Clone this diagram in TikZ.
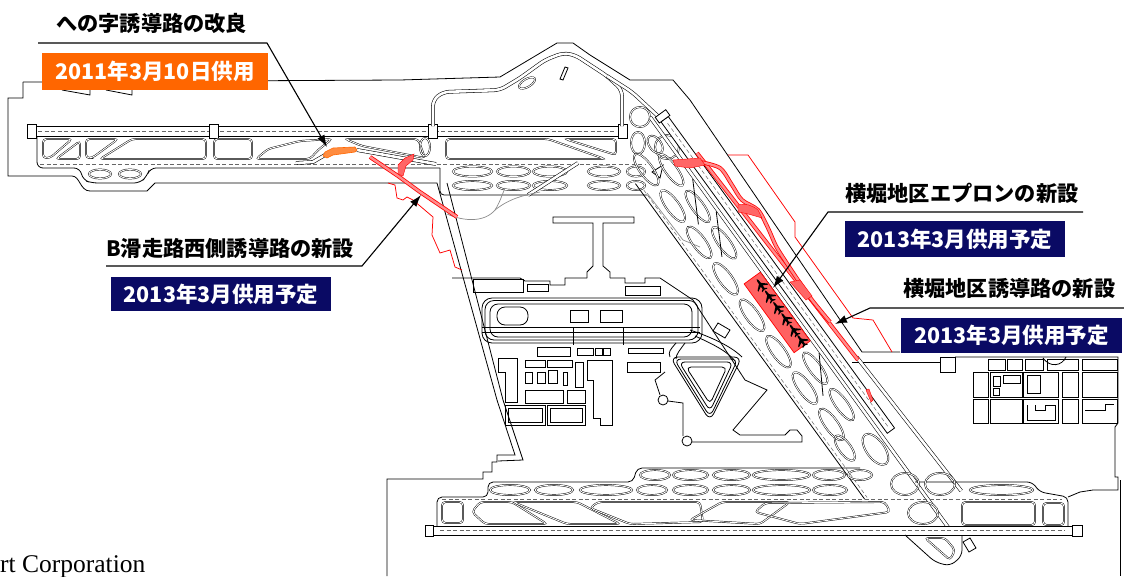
\documentclass[tikz,border=0pt]{standalone}
\usepackage{fontspec}
\usetikzlibrary{arrows.meta}
\newfontfamily\jp{Noto Sans CJK JP}
\newfontfamily\rmserif{Liberation Serif}
\definecolor{navy}{RGB}{10,10,100}
\definecolor{orng}{RGB}{255,102,0}
\newcommand{\myplane}[1]{\fill[shift={#1}, rotate=180, scale=1.3] (5,0) -- (3.5,0.7) -- (0.8,0.9) -- (-2.5,4.6) -- (-3.6,4.6) -- (-1.6,0.9) -- (-3.8,0.8) -- (-5,2.4) -- (-5.7,2.4) -- (-5,0) -- (-5.7,-2.4) -- (-5,-2.4) -- (-3.8,-0.8) -- (-1.6,-0.9) -- (-3.6,-4.6) -- (-2.5,-4.6) -- (0.8,-0.9) -- (3.5,-0.7) -- cycle;}
\begin{document}
\begin{tikzpicture}[x=1pt,y=-1pt,
  ol/.style={draw=black, line width=0.8pt},
  ov/.style={draw=black, line width=0.45pt, double=white, double distance=0.9pt},
  hole/.style={ov, rounded corners=3.5pt},
  rdd/.style={draw=black, line width=0.55pt, double=white, double distance=2.6pt},
  cl/.style={draw=black!60, line width=0.5pt, dash pattern=on 4pt off 2.5pt},
  rwy/.style={draw=black, line width=0.8pt, fill=white},
  rthin/.style={draw=red, line width=0.75pt},
  rband/.style={draw=red, line width=0.8pt, double=red!45, double distance=2.4pt},
  arr/.style={draw=black, line width=1.1pt, -{Latex[length=12pt,width=8pt]}},
  lab/.style={font=\jp\bfseries\fontsize{21.2}{24}\selectfont, inner sep=0pt, anchor=west},
  dbox/.style={font=\jp\bfseries\fontsize{21.5}{24}\selectfont, text=white, inner sep=0pt},
  gr/.style={draw=black!45, line width=0.7pt}]
\useasboundingbox (0,0) rectangle (1124,576);
\fill[white] (0,0) rectangle (1124,576);

% ---------- island outline ----------
\draw[ol] (23,82) -- (400,80) -- (500,77) -- (557,43) -- (573,43) -- (590,55) -- (630,80) -- (673,80) -- (690,100) -- (862,352) -- (900,352);
\draw[ol] (23,82) -- (23,98) -- (8,98) -- (8,176) -- (72,176) .. controls (80,176) and (80,191) .. (90,191) -- (147,191) -- (155,183) -- (437,183) -- (497,400) -- (515,455) -- (497,455) -- (497,462) -- (492,462) -- (492,472) -- (483,472) -- (483,479) -- (387,479) -- (387,576);
\draw[ol] (447,183) -- (503,400) -- (523,460) -- (498,461);
\draw[ol] (62,90) -- (90,95) -- (90,90);
\draw[ol] (106,90) -- (132,95) -- (132,90);
\draw[ol] (852,362) -- (940,362);
\draw[ol] (940,357) rectangle (955,372);
\draw[ol] (955,357) -- (1118,357) -- (1118,423) -- (1115,427) -- (1115,477) -- (1118,477) -- (1118,490) -- (1093,490) -- (1080,492) -- (1068,497);
\draw[ol] (1120,480) -- (1120,576);
% right buildings
\foreach \xa/\xb in {988/1005,1007/1022,1025/1043,1047/1078,1082/1117} \draw[ol] (\xa,359) rectangle (\xb,370);
\foreach \xa/\xb in {973/988,990/1022,1023/1058,1062/1078,1082/1117} {\draw[ol] (\xa,372) rectangle (\xb,397); \draw[ol] (\xa,399) rectangle (\xb,423);}
\draw[ol] (993,376) rectangle (1000,386); \draw[ol] (1003,375) rectangle (1020,383); \draw[ol] (993,388) rectangle (999,395);
\draw[ol] (1027,375) rectangle (1040,393); \draw[ol] (1027,405) -- (1027,420) -- (1055,420) -- (1055,405) -- (1045,405) -- (1045,410) -- (1035,410) -- (1035,405);
\draw[ol] (1085,410) -- (1105,410) -- (1105,404) -- (1114,404);
\draw[ol] (1043,358) .. controls (1050,368) and (1062,366) .. (1066,357);

% ---------- top runway (B) ----------
\draw[rwy] (27,126) rectangle (627,136);
\draw[cl] (38,131) -- (616,131);
\foreach \xa/\xb in {27/36,209/218,428/437,618/627} \draw[ol, fill=white] (\xa,124) rectangle (\xb,138);
% taxiway band
\draw[ol, rounded corners=6pt] (37,137) -- (37,168) -- (80,168) -- (83,180) -- (92,183) -- (140,183) -- (147,176) -- (150,168) -- (440,168);
\draw[cl] (40,164) -- (645,164);
\draw[hole] (43,139) -- (72,139) -- (50,158) -- (43,158) -- cycle;
\draw[hole] (80,141) -- (80,159) -- (56,159) -- cycle;
\draw[hole] (86,139) -- (118,139) -- (92,158) -- (86,158) -- cycle;
\draw[hole] (132,139) -- (206,139) -- (206,159) -- (100,159) -- cycle;
\draw[hole] (214,139) -- (252,139) -- (252,159) -- (214,159) -- cycle;
\draw[hole] (256,159) -- (268,149) -- (300,141) -- (332,139) -- (318,150) -- (310,159) -- cycle;
\draw[hole] (345,139) -- (418,139) -- (425,158) -- (362,146) -- cycle;
\draw[ov] (425,147) ellipse (5pt and 9pt);
\draw[ov] (100,174) ellipse (11pt and 4.5pt);
\draw[ov] (130,174) ellipse (11pt and 4.5pt);
\draw[rdd] (296,163) -- (313,162) -- (325,155);
\draw[rdd] (357,150) -- (436,164);
\filldraw[draw=orng, line width=0.6pt, fill=orng!75] (325,152) -- (333,148) -- (355,147) -- (357,150) -- (355,152) -- (333,155) -- (327,158) -- (323,156) -- cycle;

% ---------- central top ----------
\draw[rdd, rounded corners=6pt] (433,126) -- (433,100) -- (443,92) -- (500,90) -- (520,78) -- (545,60) -- (563,53) -- (575,55) -- (607,76) -- (622,90) -- (622,126);
\draw[rdd, rounded corners=6pt] (607,76) -- (632,92) -- (660,118);
\draw[ov, rotate around={30:(527,83)}] (527,83) ellipse (9pt and 4pt);
\draw[ol] (560,79) -- (563,80) -- (568,68) -- (565,67) -- cycle;
\draw[hole] (446,139) -- (548,139) -- (605,159) -- (446,159) -- cycle;
\draw[hole] (565,139) -- (616,139) -- (616,155) -- cycle;
\draw[ol, rounded corners=4pt] (440,168) -- (440,195) -- (647,195);
\foreach \cx/\rx in {472.5/19.5,513.5/16.5,550/17,604/16,636/9} {\draw[ov] (\cx,171.5) ellipse (\rx pt and 5pt); \draw[ov] (\cx,185.5) ellipse (\rx pt and 4.5pt);}
\draw[rdd] (528,195) -- (578,163);
\draw[ov] (640,117) circle (10pt);
\draw[ov] (667,147) circle (12pt);
\draw[ov] (638,143) ellipse (7pt and 11pt);
\draw[ol] (652,172) -- (663,165) -- (660,178) -- cycle;
% gray service roads
\draw[gr] (447,214) .. controls (465,222) and (485,222) .. (495,210) .. controls (500,202) and (502,195) .. (505,188);
\draw[gr] (495,210) .. controls (510,198) and (525,195) .. (540,192);
\draw[gr] (647,193) -- (683,240) -- (700,247);

% ---------- terminal area ----------
\draw[ol] (587,278) -- (587,272) -- (593,266) -- (593,223) -- (553,223) -- (553,217) -- (634,217) -- (634,223) -- (603,223) -- (603,266) -- (610,272) -- (610,278);
\draw[ol] (452,278) -- (520,278) -- (525,281) -- (550,281) -- (550,285) -- (565,285) -- (565,278) -- (587,278);
\draw[ol] (610,278) -- (625,278) -- (625,283) -- (645,283) -- (645,278) -- (660,278) -- (693,300) -- (745,380) -- (767,390) -- (733,430) -- (740,435) -- (785,435) -- (790,430) -- (797,430) -- (802,436) -- (802,442) -- (692,442);
\draw[ol] (687,441) circle (5pt);
\draw[ol] (683,436) -- (683,403) -- (668,401);
\draw[ol] (663,400) circle (5pt);
\draw[ol] (660,395) -- (655,380) -- (665,372);
\draw[ol] (473,279) rectangle (523,292);
\draw[ol] (527,284) rectangle (548,291);
\draw[ol] (625,286) rectangle (660,295);
\draw[ol, rounded corners=10pt] (482,298) rectangle (702,343);
\draw[ol, rounded corners=9pt] (485,300.5) rectangle (698,340);
\draw[ol, rounded corners=8pt] (490,304) rectangle (692,337);
\draw[ol, rounded corners=8pt] (497,307) rectangle (528,325);
\draw[ol] (482,327) -- (700,327); \draw[ol] (482,332) -- (700,332);
\draw[ol] (570,310) rectangle (588,322); \draw[ol] (600,310) rectangle (622,322);
\draw[ol] (573,327) -- (573,345); \draw[ol] (623,327) -- (623,345);
\draw[ol] (537,347) rectangle (570,356); \draw[ol] (577,348) rectangle (593,355);
\draw[ol] (595,348) rectangle (602,355); \draw[ol] (603,348) rectangle (610,355);
\draw[ol] (628,348) rectangle (663,353);
\draw[ol] (525,360) rectangle (545,367); \draw[ol] (547,360) rectangle (572,367);
\draw[ol] (498,358) -- (517,358) -- (517,402) -- (505,402) -- (505,372) -- (498,372) -- cycle;
\draw[ol] (525,372) rectangle (532,383); \draw[ol] (537,372) rectangle (545,383);
\draw[ol] (548,370) rectangle (557,383); \draw[ol] (563,372) rectangle (567,385);
\draw[ol] (575,362) rectangle (583,387);
\draw[ol] (525,390) rectangle (563,403); \draw[ol] (567,390) rectangle (585,403);
\draw[ol] (505,405) rectangle (545,425); \draw[ol] (508,408) rectangle (542,422);
\draw[ol] (547,405) rectangle (585,425); \draw[ol] (550,408) rectangle (582,422);
\draw[ol] (587,360) -- (612,360) -- (612,425) -- (600,425) -- (600,418) -- (593,418) -- (593,380) -- (587,380) -- cycle;
\draw[ol] (627,362) rectangle (660,372);
\draw[ol, rounded corners=8pt] (670,357) -- (742,357) -- (710,421) -- cycle;
\draw[ol, rounded corners=7pt] (674,359) -- (738,359) -- (710,417) -- cycle;
\draw[ol, rounded corners=6pt] (679,362) -- (733,362) -- (710,411) -- cycle;
\draw[ol, rounded corners=5pt] (686,367) -- (727,367) -- (710,404) -- cycle;
\draw[ol] (690,330) .. controls (720,340) and (735,350) .. (742,357);
\draw[ol] (695,336) .. controls (715,345) and (728,352) .. (735,361);
\draw[ol] (676,343) .. controls (670,350) and (668,352) .. (670,357);
\draw[ol] (685,343) .. controls (680,350) and (676,354) .. (676,359);
\draw[ol] (718,323) -- (730,330) -- (725,338) -- (713,331) -- cycle;

% ---------- diagonal (C) system ----------
\begin{scope}[shift={(672,120)}, rotate=-54]
  \draw[rdd] (-15,16) -- (498,16);
  \draw[rdd] (300,-10) -- (470,-16);
  \draw[cl] (40,64) -- (420,64);
  \draw[ol] (30,67) -- (420,67);
  \foreach \a in {40,85,130,285,330} \draw[ov] (\a,30) ellipse (19pt and 6pt);
  \foreach \a in {25,70,115,160,205,250,295,340} \draw[ov] (\a,50) ellipse (19pt and 6.5pt);
  \draw[ov] (10,28) ellipse (10pt and 6pt);
  \draw[ov] (367,53) ellipse (15pt and 6pt);
  \draw[ov] (386,29) ellipse (18pt and 9pt);
  \draw[ol] (60,18) -- (100,40); \draw[ol] (100,18) -- (140,40); \draw[ol] (275,18) -- (312,40);
  \draw[rwy] (-5,1) rectangle (380,10);
  \draw[cl] (0,5.5) -- (375,5.5);
  \draw[ol, fill=white] (-12,-1) rectangle (-5,12);
  \filldraw[draw=red, line width=0.7pt, fill=red!62] (175,18) rectangle (260,38);
  \foreach \a in {185,199,213,227,241,254} \myplane{(\a,25)};
\end{scope}

% ---------- bottom (D) system ----------
\draw[rwy] (433,526) rectangle (1072,535);
\draw[cl] (440,530.5) -- (1065,530.5);
\draw[ol, fill=white] (425,525) rectangle (433,536);
\draw[ol, fill=white] (1072,525) rectangle (1082,536);
\draw[ol, rounded corners=5pt] (437,526) -- (437,497) -- (488,497) -- (488,482) -- (633,482) -- (637,468) -- (860,468);
\draw[ol, rounded corners=5pt] (915,482) -- (1032,482) -- (1040,492) -- (1068,497) -- (1068,526);
\draw[cl] (442,499.5) -- (1062,499.5);
\draw[hole] (442,502) rectangle (463,523);
\draw[hole] (480,502) -- (512,502) -- (547,524) -- (485,524) -- (472,512) -- cycle;
\draw[hole] (513,502) -- (577,502) -- (620,524) -- (567,524) -- cycle;
\draw[hole] (590,508) -- (598,502) -- (700,502) -- (703,522) -- (630,524) -- cycle;
\draw[hole] (690,520) -- (722,502) -- (790,502) -- (760,524) -- cycle;
\draw[hole] (755,512) -- (765,503) -- (885,502) -- (890,512) -- (800,524) -- cycle;
\draw[ov] (923,513) ellipse (15pt and 11pt);
\draw[ov] (905,484) ellipse (14pt and 11pt);
\draw[ov] (940,484) ellipse (15pt and 11pt);
\draw[hole] (962,502) rectangle (1035,525);
\draw[hole] (1043,503) rectangle (1064,525);
\foreach \xa/\xb in {490/530,535/573,580/632,637/667,673/708,713/750,753/810,813/847,970/1033} {\pgfmathsetmacro\cc{(\xa+\xb)/2}\pgfmathsetmacro\rr{(\xb-\xa)/2}\draw[ov] (\cc,490) ellipse (\rr pt and 5pt);}
\foreach \xa/\xb in {640/670,673/708,713/750,753/810,813/845,848/872} {\pgfmathsetmacro\cc{(\xa+\xb)/2}\pgfmathsetmacro\rr{(\xb-\xa)/2}\draw[ov] (\cc,475) ellipse (\rr pt and 5pt);}
\draw[ol, rounded corners=6pt] (905,535) -- (935,562) -- (950,566) -- (962,556) -- (962,535);
\draw[hole] (925,538) -- (950,560) -- (955,550) -- (945,538) -- cycle;
\draw[ol, fill=white] (963,542) -- (970,538) -- (976,548) -- (969,552) -- cycle;

% ---------- red items ----------
\draw[rthin] (388,183) -- (395,185) -- (397,198) -- (403,200) -- (407,197) -- (413,200) -- (433,217) -- (432,235) -- (440,253) -- (450,250) -- (455,267) -- (462,270);
\draw[rband] (370,157) -- (398,176) -- (420,192) -- (457,217);
\filldraw[draw=red, fill=red!60] (398,165) -- (405,158) -- (414,154) -- (413,160) -- (406,166) -- (403,176) -- (398,174) -- cycle;
\draw[rthin] (728,155) -- (748,155) -- (795,222) -- (795,237) -- (853,318) -- (873,320) -- (892,352);
\draw[rband] (697,153) -- (858,360);
\draw[rband] plot[smooth] coordinates {(700,162) (720,168) (732,185) (742,200) (758,210) (768,228) (776,246) (786,262) (798,280) (812,300) (830,322)};
\filldraw[draw=red, fill=red!60] (673,160) -- (700,158) -- (705,165) -- (690,168) -- (675,166) -- cycle;
\filldraw[draw=red, fill=red!60] (738,205) .. controls (745,203) and (752,205) .. (758,210) -- (762,218) .. controls (752,215) and (745,213) .. (738,212) -- cycle;
\filldraw[draw=red, fill=red!60] (790,282) -- (800,280) -- (812,296) -- (806,300) -- cycle;
\filldraw[draw=red, fill=red!60] (866,390) -- (869,389) -- (873,400) -- (871,402) -- cycle;

% ---------- labels ----------
\coordinate (t1) at (327,147);
\coordinate (t2) at (421,195);
\coordinate (t3) at (773,288);
\coordinate (t4) at (835,324);
\draw[arr] (38,43) -- (267,43) -- (t1);
\draw[arr] (106,266) -- (362,266) -- (t2);
\draw[arr] (1083,212) -- (828,212) -- (t3);
\draw[arr] (1124,308) -- (870,308) -- (t4);

\node[lab] (l1) at (56,23) {への字誘導路の改良};
\node[dbox, fill=orng, minimum width=226pt, minimum height=37pt] (d1) at (155,71.5) {2011年3月10日供用};
\node[lab] (l2) at (106,248) {B滑走路西側誘導路の新設};
\node[dbox, fill=navy, minimum width=220pt, minimum height=34pt] (d2) at (221,294) {2013年3月供用予定};
\node[lab] (l3) at (845,193) {横堀地区エプロンの新設};
\node[dbox, fill=navy, minimum width=220pt, minimum height=36pt] (d3) at (955,239) {2013年3月供用予定};
\node[lab] (l4) at (903,288) {横堀地区誘導路の新設};
\node[dbox, fill=navy, minimum width=221pt, minimum height=35pt] (d4) at (1011.5,335.5) {2013年3月供用予定};
\node[anchor=base west, inner sep=0pt, font=\rmserif\fontsize{25.5}{30}\selectfont] (corp) at (0,572) {rt Corporation};
\end{tikzpicture}
\end{document}
